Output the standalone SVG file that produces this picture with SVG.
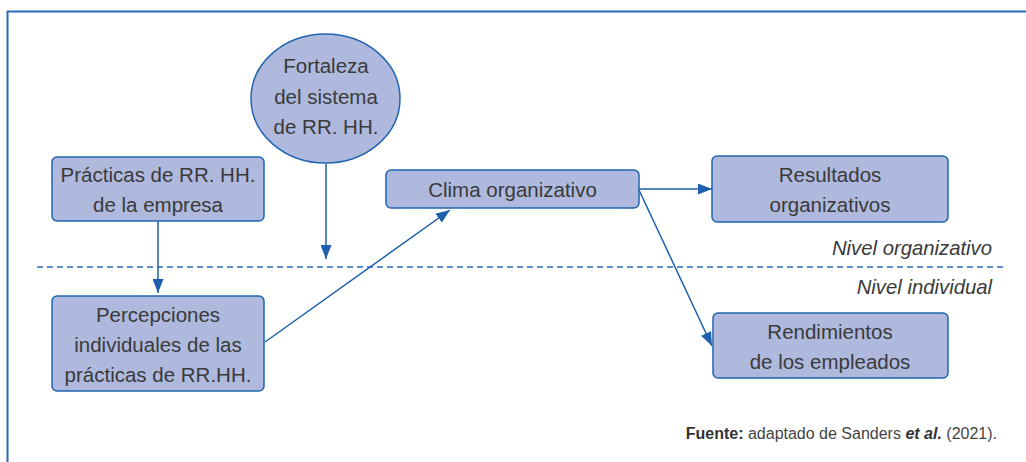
<svg xmlns="http://www.w3.org/2000/svg" width="1026" height="462" viewBox="0 0 1026 462">
<style>
.node{fill:#aeb9dd;stroke:#2065b0;stroke-width:1.5}
.t{font-family:"Liberation Sans",Arial,sans-serif;font-size:20.5px;fill:#3a3a3a;text-anchor:middle}
.lvl{font-family:"Liberation Sans",Arial,sans-serif;font-size:20.3px;fill:#3a3a3a;font-style:italic;text-anchor:end}
.src{font-family:"Liberation Sans",Arial,sans-serif;font-size:16px;fill:#444;text-anchor:end}
.c{stroke:#1d5fad;stroke-width:1.5;fill:none}
</style>
<defs>
<marker id="ah" viewBox="0 0 14 11" refX="14" refY="5.5" markerWidth="14" markerHeight="11" markerUnits="userSpaceOnUse" orient="auto">
<path d="M0,0 L14,5.5 L0,11 z" fill="#1d5fad"/>
</marker>
</defs>
<g id="frame">
<path d="M7.5,462 V11.5 H1026" fill="none" stroke="#2a6bb5" stroke-width="2"/>
</g>
<g id="levels">
<line x1="37" y1="267" x2="1004" y2="267" stroke="#2a6bb5" stroke-width="1.3" stroke-dasharray="6,4"/>
<text class="lvl" x="992" y="255">Nivel organizativo</text>
<text class="lvl" x="992" y="294">Nivel individual</text>
</g>
<g id="connectors">
<line class="c" x1="158" y1="221" x2="158" y2="293" marker-end="url(#ah)"/>
<line class="c" x1="326" y1="164" x2="326" y2="259" marker-end="url(#ah)"/>
<line class="c" x1="265" y1="342" x2="450" y2="210" marker-end="url(#ah)"/>
<line class="c" x1="639" y1="189" x2="712" y2="189" marker-end="url(#ah)"/>
<line class="c" x1="639" y1="190" x2="712" y2="346" marker-end="url(#ah)"/>
</g>
<g id="fortaleza">
<ellipse class="node" cx="325.5" cy="98.5" rx="74.5" ry="64.5"/>
<text class="t" x="326" y="73">Fortaleza</text>
<text class="t" x="326" y="104">del sistema</text>
<text class="t" x="326" y="134">de RR. HH.</text>
</g>
<g id="practicas">
<rect class="node" x="52" y="157" width="212" height="64" rx="5"/>
<text class="t" x="158" y="182">Prácticas de RR. HH.</text>
<text class="t" x="158" y="212">de la empresa</text>
</g>
<g id="percepciones">
<rect class="node" x="52" y="296" width="212" height="95" rx="5"/>
<text class="t" x="158" y="322">Percepciones</text>
<text class="t" x="158" y="352">individuales de las</text>
<text class="t" x="158" y="382">prácticas de RR.HH.</text>
</g>
<g id="clima">
<rect class="node" x="386" y="170" width="253" height="38" rx="5"/>
<text class="t" x="512.5" y="197">Clima organizativo</text>
</g>
<g id="resultados">
<rect class="node" x="712" y="156" width="236" height="66" rx="5"/>
<text class="t" x="830" y="182">Resultados</text>
<text class="t" x="830" y="212">organizativos</text>
</g>
<g id="rendimientos">
<rect class="node" x="713" y="313" width="235" height="65" rx="5"/>
<text class="t" x="830" y="339">Rendimientos</text>
<text class="t" x="830" y="369">de los empleados</text>
</g>
<g id="source">
<text class="src" x="997" y="439"><tspan font-weight="bold" fill="#333">Fuente:</tspan> adaptado de Sanders <tspan font-weight="bold" font-style="italic" fill="#333">et al.</tspan> (2021).</text>
</g>
</svg>
